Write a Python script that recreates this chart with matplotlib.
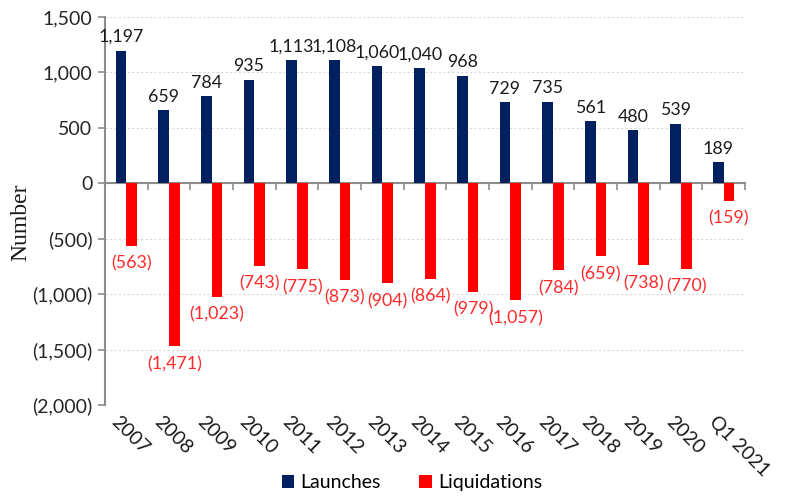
import numpy as np
import matplotlib
matplotlib.use("Agg")
import matplotlib.pyplot as plt
import matplotlib.transforms as mtransforms

# Data
years = ["2007", "2008", "2009", "2010", "2011", "2012", "2013", "2014",
         "2015", "2016", "2017", "2018", "2019", "2020", "Q1 2021"]
launches = [1197, 659, 784, 935, 1113, 1108, 1060, 1040, 968, 729, 735, 561, 480, 539, 189]
liquidations = [-563, -1471, -1023, -743, -775, -873, -904, -864, -979, -1057, -784, -659, -738, -770, -159]

navy = "#002060"
red = "#ff0000"
font = ["Lato", "DejaVu Sans"]


def fmt(v):
    s = f"{abs(v):,.0f}"
    return f"({s})" if v < 0 else s


fig = plt.figure(figsize=(7.92, 4.96), dpi=100)
ax = fig.add_axes([0.1326, 0.1835, 0.808, 0.7822])

x = np.arange(len(years))
w = 0.25
ax.bar(x - w / 2, launches, w, color=navy, label="Launches", zorder=3)
ax.bar(x + w / 2, liquidations, w, color=red, label="Liquidations", zorder=3)

# data labels
for xi, v in zip(x, launches):
    ax.annotate(fmt(v), (xi - w / 2, v), xytext=(0, 4), textcoords="offset points",
                ha="center", va="bottom", fontsize=12.8, color="#1a1a1a", family=font)
for xi, v in zip(x, liquidations):
    ax.annotate(fmt(v), (xi + w / 2, v), xytext=(0, -7), textcoords="offset points",
                ha="center", va="top", fontsize=12.8, color="#ff2a2a", family=font)

ax.set_xlim(-0.5, len(years) - 0.5)
ax.set_ylim(-2000, 1500)
ax.set_yticks(np.arange(-2000, 1501, 500))
ax.set_yticklabels([fmt(t) for t in np.arange(-2000, 1501, 500)],
                   fontsize=14, color="#262626", family=font)
ax.yaxis.grid(True, linestyle=(0, (2, 2)), color="#dadada", linewidth=0.8, zorder=0)

# x axis drawn at zero, ticks between categories
ax.spines["bottom"].set_position(("data", 0))
ax.spines["bottom"].set_color("#8c8c8c")
ax.spines["bottom"].set_linewidth(1.5)
ax.spines["left"].set_color("#8c8c8c")
ax.spines["left"].set_linewidth(1.5)
ax.spines["top"].set_visible(False)
ax.spines["right"].set_visible(False)
ax.set_xticks(np.arange(-0.5, len(years), 1.0))
ax.set_xticklabels([])
ax.tick_params(axis="x", direction="out", length=5, color="#8c8c8c", width=1.2)
ax.tick_params(axis="y", direction="out", length=5, color="#8c8c8c", width=1.2, pad=4)

# category labels along the bottom of the plot area
trans = mtransforms.blended_transform_factory(ax.transData, ax.transAxes)
for xi, lab in zip(x, years):
    ax.text(xi - 0.14, -0.02, lab, transform=trans, rotation=-45,
            rotation_mode="anchor", ha="left", va="top",
            fontsize=14, color="#1a1a1a", family=font)

ax.set_ylabel("Number", fontsize=17, family=["Liberation Serif", "DejaVu Serif"],
              color="#1a1a1a")
ax.yaxis.set_label_coords(-0.115, 0.47)

leg = fig.legend(loc="lower center", bbox_to_anchor=(0.52, -0.025), ncol=2,
                 frameon=False, prop={"family": font, "size": 14},
                 handlelength=0.65, handleheight=0.65, handletextpad=0.3,
                 columnspacing=2.0)

fig.savefig("out.png", dpi=100)
